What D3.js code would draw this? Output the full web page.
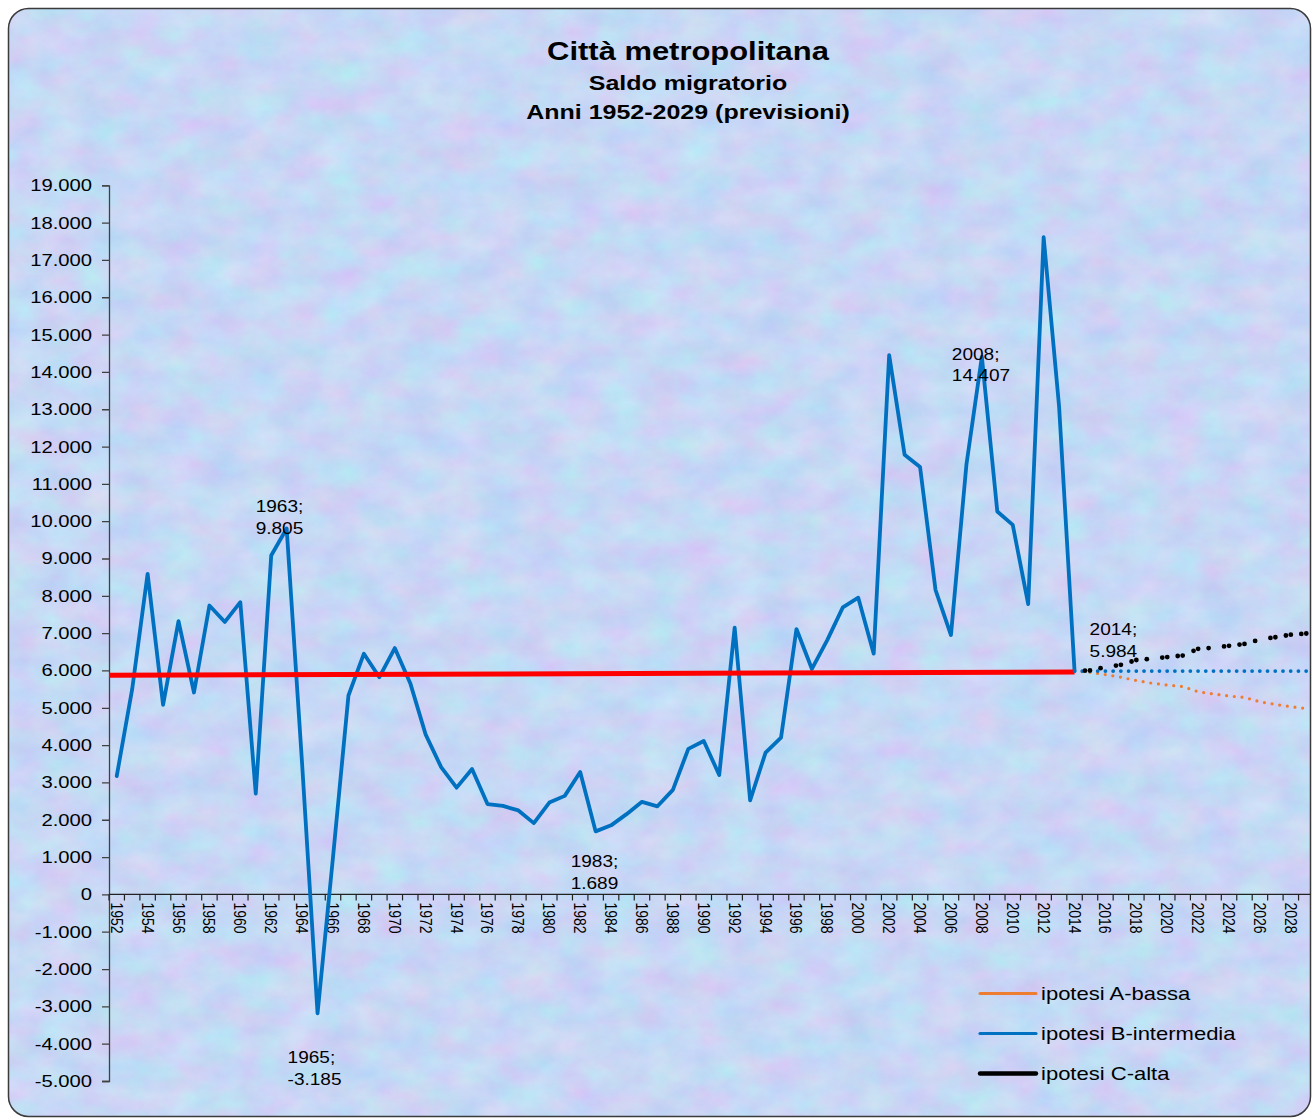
<!DOCTYPE html>
<html><head><meta charset="utf-8">
<script src="https://cdn.jsdelivr.net/npm/d3@7"></script>
<style>html,body{margin:0;padding:0;background:#fff;}svg{display:block;font-family:"Liberation Sans",Arial,sans-serif;}</style>
</head><body><div id="chart"></div>
<script>
// ---------- DATA ----------
const years = [1952,1953,1954,1955,1956,1957,1958,1959,1960,1961,1962,1963,1964,1965,1966,1967,1968,1969,1970,1971,1972,1973,1974,1975,1976,1977,1978,1979,1980,1981,1982,1983,1984,1985,1986,1987,1988,1989,1990,1991,1992,1993,1994,1995,1996,1997,1998,1999,2000,2001,2002,2003,2004,2005,2006,2007,2008,2009,2010,2011,2012,2013,2014,2015,2016,2017,2018,2019,2020,2021,2022,2023,2024,2025,2026,2027,2028,2029];
const histYears = [1952,1953,1954,1955,1956,1957,1958,1959,1960,1961,1962,1963,1964,1965,1966,1967,1968,1969,1970,1971,1972,1973,1974,1975,1976,1977,1978,1979,1980,1981,1982,1983,1984,1985,1986,1987,1988,1989,1990,1991,1992,1993,1994,1995,1996,1997,1998,1999,2000,2001,2002,2003,2004,2005,2006,2007,2008,2009,2010,2011,2012,2013,2014];
const histValues = [3170,5500,8590,5080,7320,5410,7740,7300,7830,2700,9080,9805,3500,-3185,1000,5330,6450,5820,6600,5660,4280,3410,2860,3360,2420,2370,2250,1910,2460,2640,3280,1689,1850,2150,2480,2360,2800,3900,4110,3200,7150,2520,3800,4200,7110,6040,6820,7690,7950,6450,14450,11780,11450,8160,6950,11510,14407,10260,9900,7780,17610,13070,5984];
const forecastYears = [2014,2015,2016,2017,2018,2019,2020,2021,2022,2023,2024,2025,2026,2027,2028,2029];
const hypA = [5984,5950,5890,5820,5730,5660,5610,5570,5430,5370,5315,5280,5160,5090,5030,4980];
const hypB = [5984,5984,5984,5984,5984,5984,5984,5984,5984,5984,5984,5984,5984,5984,5984,5984];
const hypC = [5984,6000,6090,6150,6280,6315,6360,6400,6580,6610,6660,6710,6830,6890,6960,6990];
const refYears = [1952,2014];
const refValues = [5870,5960];
const yTicks = [-5000,-4000,-3000,-2000,-1000,0,1000,2000,3000,4000,5000,6000,7000,8000,9000,10000,11000,12000,13000,14000,15000,16000,17000,18000,19000];
const xTickLabels = [1952,1954,1956,1958,1960,1962,1964,1966,1968,1970,1972,1974,1976,1978,1980,1982,1984,1986,1988,1990,1992,1994,1996,1998,2000,2002,2004,2006,2008,2010,2012,2014,2016,2018,2020,2022,2024,2026,2028];
const labelYears = [1963,1965,1983,2008,2014];
const seriesNames = ["ipotesi A-bassa","ipotesi B-intermedia","ipotesi C-alta"];
const titleLines = ["Città metropolitana","Saldo migratorio","Anni 1952-2029 (previsioni)"];

// ---------- SETUP ----------
const W = 1312, H = 1118, SX = 1.19;
const COL_A = "#ED7D31", COL_B = "#0070C0", COL_C = "#000000", COL_REF = "#FF0000";
const loc = d3.formatLocale({decimal: ",", thousands: ".", grouping: [3], currency: ["", "€"], minus: "-"});
const fmt = loc.format(",d");

const svg = d3.select("#chart").append("svg").attr("width", W).attr("height", H);
const defs = svg.append("defs");
const f = defs.append("filter").attr("id", "tex").attr("x", 0).attr("y", 0).attr("width", 1).attr("height", 1)
  .attr("color-interpolation-filters", "sRGB");
f.append("feTurbulence").attr("type", "fractalNoise").attr("baseFrequency", "0.025 0.035").attr("numOctaves", 5).attr("seed", 11);
f.append("feColorMatrix").attr("type", "matrix").attr("values",
  "0.18 0 0 0 0.69  -0.07 0.14 0 0 0.81  0 0 0.05 0 0.935  0 0 0 0 1");
defs.append("clipPath").attr("id", "frame").append("rect")
  .attr("x", 8.5).attr("y", 8.5).attr("width", 1302).attr("height", 1108).attr("rx", 20);

svg.append("rect").attr("x", 8.5).attr("y", 8.5).attr("width", 1302).attr("height", 1108).attr("rx", 20)
  .attr("fill", "#c9dcf5");
svg.append("g").attr("clip-path", "url(#frame)").append("rect")
  .attr("x", 0).attr("y", 0).attr("width", W).attr("height", H).attr("filter", "url(#tex)");
svg.append("rect").attr("x", 8.5).attr("y", 8.5).attr("width", 1302).attr("height", 1108).attr("rx", 20)
  .attr("fill", "none").attr("stroke", "#3b3b3b").attr("stroke-width", 1.5);

function txt(g, x, y, s, size, opts = {}) {
  return g.append("text")
    .attr("transform", `translate(${x},${y}) scale(${SX},1)`)
    .attr("font-size", size)
    .attr("font-weight", opts.weight || "normal")
    .attr("text-anchor", opts.anchor || "start")
    .attr("dy", opts.dy || null)
    .attr("fill", "#000")
    .text(s);
}

// titles
const tg = svg.append("g");
txt(tg, 688, 60, titleLines[0], 26, {weight: "bold", anchor: "middle"});
txt(tg, 688, 90, titleLines[1], 21, {weight: "bold", anchor: "middle"});
txt(tg, 688, 119, titleLines[2], 21, {weight: "bold", anchor: "middle"});

// scales
const x = d3.scaleBand().domain(years).range([109, 1314]).padding(0);
const cx = yr => x(yr) + x.bandwidth() / 2;
const y = d3.scaleLinear().domain([-5000, 19000]).range([1081, 185.3]);

const plot = svg.append("g").attr("clip-path", "url(#frame)");

// y axis
const yAxis = plot.append("g").attr("transform", `translate(${x.range()[0]},0)`)
  .call(d3.axisLeft(y).tickValues(yTicks).tickSize(7).tickFormat(() => ""));
yAxis.select(".domain").attr("stroke", "#404040").attr("stroke-width", 1.3);
yAxis.selectAll(".tick line").attr("stroke", "#404040").attr("stroke-width", 1.3);
const ylab = svg.append("g");
yTicks.forEach(t => txt(ylab, 92, y(t), fmt(t), 17, {anchor: "end", dy: "0.35em"}));

// x axis at zero
const xa = plot.append("g").attr("transform", `translate(0,${y(0)})`);
xa.append("line").attr("x1", x.range()[0]).attr("x2", x.range()[1]).attr("stroke", "#222").attr("stroke-width", 1.3);
years.forEach(yr => xa.append("line").attr("x1", x(yr)).attr("x2", x(yr)).attr("y1", 0).attr("y2", 6)
  .attr("stroke", "#222").attr("stroke-width", 1.2));
xa.append("line").attr("x1", x.range()[1]).attr("x2", x.range()[1]).attr("y1", 0).attr("y2", 6).attr("stroke", "#222");
xTickLabels.forEach(yr => {
  xa.append("text")
    .attr("transform", `translate(${cx(yr)},8) scale(${SX},1) rotate(90)`)
    .attr("font-size", 14).attr("dy", "0.36em").attr("fill", "#000").text(yr);
});

// historical line (B)
const line = d3.line().x(d => cx(d[0])).y(d => y(d[1]));
const hist = histYears.map((yr, i) => [yr, histValues[i]]);
plot.append("path").attr("d", line(hist)).attr("fill", "none").attr("stroke", COL_B)
  .attr("stroke-width", 3.8).attr("stroke-linejoin", "round").attr("stroke-linecap", "round");

// reference (red) line
const refPts = refYears.map((yr, i) => [i === 0 ? x.range()[0] : cx(yr), y(refValues[i])]);
plot.append("path").attr("d", d3.line()(refPts)).attr("fill", "none").attr("stroke", COL_REF).attr("stroke-width", 5);

// forecasts
const fA = forecastYears.map((yr, i) => [yr, hypA[i]]);
const fB = forecastYears.map((yr, i) => [yr, hypB[i]]);
const fC = forecastYears.map((yr, i) => [yr, hypC[i]]);
plot.append("path").attr("d", line(fA)).attr("fill", "none").attr("stroke", COL_A)
  .attr("stroke-width", 3.2).attr("stroke-linecap", "round").attr("stroke-dasharray", "0 7.72");
plot.append("path").attr("d", line(fB)).attr("fill", "none").attr("stroke", COL_B)
  .attr("stroke-width", 3.8).attr("stroke-linecap", "round").attr("stroke-dasharray", "0 7.72")
  .attr("stroke-dashoffset", -7.72);
for (let i = 0; i < fC.length - 1; i++) {
  const a = fC[i], b = fC[i + 1];
  const L = Math.hypot(cx(b[0]) - cx(a[0]), y(b[1]) - y(a[1]));
  plot.append("path").attr("d", line([a, b])).attr("fill", "none").attr("stroke", COL_C)
    .attr("stroke-width", 4.8).attr("stroke-linecap", "round")
    .attr("stroke-dasharray", `0 5 0 ${L + 100}`).attr("stroke-dashoffset", 5 - L);
}

// data labels
const labelOffsets = {1963: [-31, -16], 1965: [-30, 50], 1983: [-25, 36], 2008: [-30, 3], 2014: [15, -36]};
const lg = svg.append("g");
labelYears.forEach(yr => {
  const i = histYears.indexOf(yr);
  const v = histValues[i];
  const [dx, dy] = labelOffsets[yr];
  const px = cx(yr) + dx, py = y(v) + dy;
  txt(lg, px, py, `${yr};`, 16);
  txt(lg, px, py + 21.5, fmt(v), 16);
});

// legend
const leg = svg.append("g");
const legCols = [COL_A, COL_B, COL_C];
const legW = [3, 3.2, 4.4];
seriesNames.forEach((n, i) => {
  const ly = 993.5 + i * 40;
  leg.append("line").attr("x1", 980).attr("x2", 1036).attr("y1", ly).attr("y2", ly)
    .attr("stroke", legCols[i]).attr("stroke-width", legW[i]).attr("stroke-linecap", "round");
  txt(leg, 1041, ly, n, 18.5, {dy: "0.35em"});
});
</script></body></html>
